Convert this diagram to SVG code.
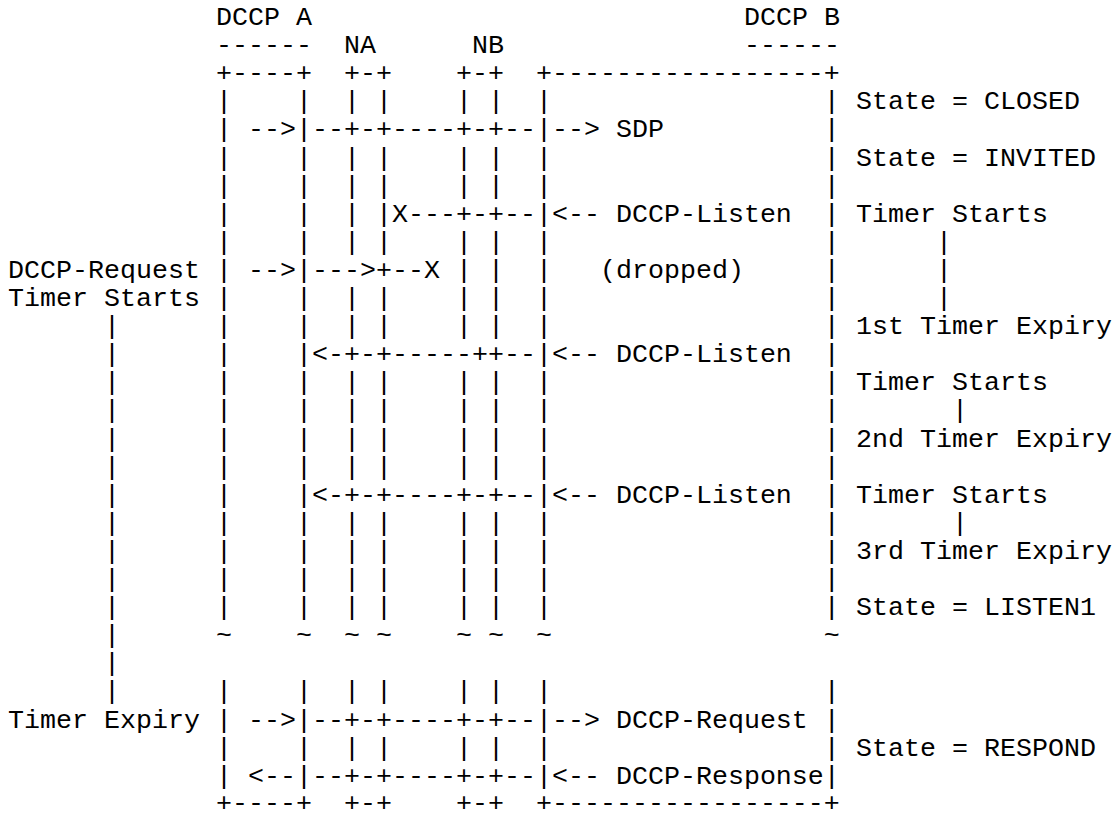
<svg xmlns="http://www.w3.org/2000/svg" width="1117" height="819" viewBox="0 0 1117 819">
  <style>
    text { font-family: "Liberation Mono", "Courier New", monospace; font-size: 26.67px; fill: #000; white-space: pre; }
  </style>
  <rect width="1117" height="819" fill="#fff"/>

  <!-- 16px character grid: column c starts at x = 8 + 16c, row n baseline at y = 25 + 28.1n -->

  <!-- endpoint and middlebox headers -->
  <g id="node-dccp-a">
    <text x="216" y="25">DCCP A</text>
    <text x="216" y="53.1">------</text>
  </g>
  <g id="node-na">
    <text x="344" y="53.1">NA</text>
  </g>
  <g id="node-nb">
    <text x="472" y="53.1">NB</text>
  </g>
  <g id="node-dccp-b">
    <text x="744" y="25">DCCP B</text>
    <text x="744" y="53.1">------</text>
  </g>

  <!-- lifeline frames -->
  <g id="lifelines" xml:space="preserve">
    <text x="216" y="81.2">+----+  +-+    +-+  +-----------------+</text>
    <text x="216" y="109.3">|    |  | |    | |  |                 |</text>
    <text x="216" y="165.5">|    |  | |    | |  |                 |</text>
    <text x="216" y="193.6">|    |  | |    | |  |                 |</text>
    <text x="216" y="249.8">|    |  | |    | |  |                 |</text>
    <text x="216" y="306">|    |  | |    | |  |                 |</text>
    <text x="216" y="334.1">|    |  | |    | |  |                 |</text>
    <text x="216" y="390.3">|    |  | |    | |  |                 |</text>
    <text x="216" y="418.4">|    |  | |    | |  |                 |</text>
    <text x="216" y="446.5">|    |  | |    | |  |                 |</text>
    <text x="216" y="474.6">|    |  | |    | |  |                 |</text>
    <text x="216" y="530.8">|    |  | |    | |  |                 |</text>
    <text x="216" y="558.9">|    |  | |    | |  |                 |</text>
    <text x="216" y="587">|    |  | |    | |  |                 |</text>
    <text x="216" y="615.1">|    |  | |    | |  |                 |</text>
    <text x="216" y="643.2">~    ~  ~ ~    ~ ~  ~                 ~</text>
    <text x="216" y="699.4">|    |  | |    | |  |                 |</text>
    <text x="216" y="755.6">|    |  | |    | |  |                 |</text>
    <text x="216" y="811">+----+  +-+    +-+  +-----------------+</text>
  </g>

  <!-- message exchanges -->
  <g id="connectors" xml:space="preserve">
    <text x="216" y="137.4">| -->|--+-+----+-+--|--> SDP          |</text>
    <text x="216" y="221.7">|    |  | |X---+-+--|&lt;-- DCCP-Listen  |</text>
    <text x="216" y="277.9">| -->|---&gt;+--X | |  |   (dropped)     |</text>
    <text x="216" y="362.2">|    |&lt;-+-+-----++--|&lt;-- DCCP-Listen  |</text>
    <text x="216" y="502.7">|    |&lt;-+-+----+-+--|&lt;-- DCCP-Listen  |</text>
    <text x="216" y="727.5">| -->|--+-+----+-+--|--> DCCP-Request |</text>
    <text x="216" y="783.7">| &lt;--|--+-+----+-+--|&lt;-- DCCP-Response|</text>
  </g>

  <!-- request retransmission timer at DCCP A -->
  <g id="timer-a">
    <text x="8" y="277.9">DCCP-Request</text>
    <text x="8" y="306">Timer Starts</text>
    <text x="104" y="334.1">|</text>
    <text x="104" y="362.2">|</text>
    <text x="104" y="390.3">|</text>
    <text x="104" y="418.4">|</text>
    <text x="104" y="446.5">|</text>
    <text x="104" y="474.6">|</text>
    <text x="104" y="502.7">|</text>
    <text x="104" y="530.8">|</text>
    <text x="104" y="558.9">|</text>
    <text x="104" y="587">|</text>
    <text x="104" y="615.1">|</text>
    <text x="104" y="643.2">|</text>
    <text x="104" y="671.3">|</text>
    <text x="104" y="699.4">|</text>
    <text x="8" y="727.5">Timer Expiry</text>
  </g>

  <!-- state and timer notes at DCCP B -->
  <g id="states-b">
    <text x="856" y="109.3">State = CLOSED</text>
    <text x="856" y="165.5">State = INVITED</text>
    <text x="856" y="221.7">Timer Starts</text>
    <text x="936" y="249.8">|</text>
    <text x="936" y="277.9">|</text>
    <text x="936" y="306">|</text>
    <text x="856" y="334.1">1st Timer Expiry</text>
    <text x="856" y="390.3">Timer Starts</text>
    <text x="952" y="418.4">|</text>
    <text x="856" y="446.5">2nd Timer Expiry</text>
    <text x="856" y="502.7">Timer Starts</text>
    <text x="952" y="530.8">|</text>
    <text x="856" y="558.9">3rd Timer Expiry</text>
    <text x="856" y="615.1">State = LISTEN1</text>
    <text x="856" y="755.6">State = RESPOND</text>
  </g>
</svg>
